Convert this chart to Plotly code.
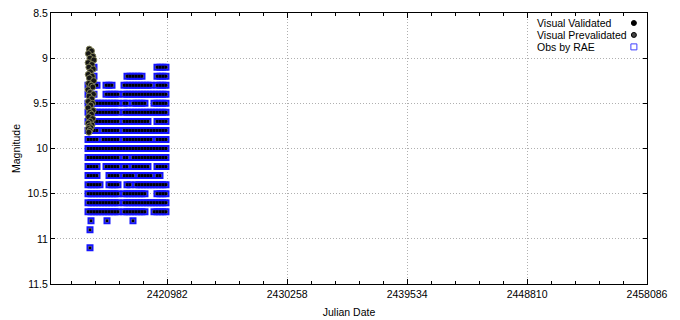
import plotly.graph_objects as go

# ---- data (Julian Date per magnitude row) ----
mag_rows = [9.1, 9.2, 9.3, 9.4, 9.5, 9.6, 9.7, 9.8, 9.9, 10.0, 10.1, 10.2, 10.3, 10.4, 10.5, 10.6, 10.7, 10.8, 10.9, 11.1]

obs_9_1 = [2415084, 2415316, 2420187, 2420419, 2420651, 2420883]
obs_9_2 = [2415084, 2415316, 2417867, 2418099, 2418331, 2418563, 2418795, 2419027,
           2420187, 2420419, 2420651, 2420883]
obs_9_3 = [2414852, 2415084, 2415316, 2415548, 2416244, 2416476, 2416708,
           2417635, 2417867, 2418099, 2418331, 2418563, 2418795, 2419027, 2419259, 2419491, 2419723,
           2420187, 2420419, 2420651, 2420883]
obs_9_4 = [2414852, 2415084, 2415316, 2416244, 2416476, 2416708, 2416940, 2417172,
           2417635, 2417867, 2418099, 2418331, 2418563, 2418795, 2419027, 2419259, 2419491, 2419723,
           2419955, 2420187, 2420419, 2420651, 2420883]
obs_9_5 = [2414852, 2415084, 2415316, 2415548, 2415780, 2416012, 2416244, 2416476, 2416708, 2416940, 2417172,
           2417635, 2417867, 2418331, 2418563, 2418795, 2419027, 2419259,
           2419955, 2420187, 2420419, 2420651, 2420883]
obs_9_6 = [2414852, 2415084, 2415316, 2415548, 2415780, 2416012, 2416244, 2416476, 2416708, 2416940, 2417172,
           2417635, 2417867, 2418099, 2418331, 2418563, 2418795, 2419027, 2419259, 2419491, 2419723,
           2419955, 2420187, 2420419, 2420651, 2420883]
obs_9_7 = [2414852, 2415084, 2415316, 2415548, 2415780, 2416012, 2416244, 2416476, 2416708, 2416940, 2417172,
           2417635, 2417867, 2418099, 2418331, 2418563, 2418795, 2419027, 2419259, 2419491,
           2420187, 2420419, 2420651, 2420883]
obs_9_8 = [2414852, 2415084, 2415316, 2415548, 2416012, 2416244, 2416476, 2416708, 2416940, 2417172,
           2417635, 2417867, 2418099, 2418331, 2418563, 2418795, 2419027, 2419259, 2419491, 2419723,
           2419955, 2420187, 2420419, 2420651, 2420883]
obs_9_9 = [2414852, 2415084, 2415316, 2415548, 2416012, 2416244, 2416476, 2416708, 2416940, 2417172,
           2417635, 2417867, 2418099, 2418331, 2418563, 2418795, 2419027, 2419259, 2419491, 2419723,
           2420187, 2420419, 2420651, 2420883]
obs_10_0 = [2414852, 2415084, 2415316, 2415548, 2415780, 2416012, 2416244, 2416476, 2416708, 2416940, 2417172, 2417404,
            2417635, 2417867, 2418099, 2418331, 2418563, 2418795, 2419027, 2419259, 2419491, 2419723,
            2419955, 2420187, 2420419, 2420651, 2420883]
obs_10_1 = [2414852, 2415084, 2415316, 2415548, 2415780, 2416012, 2416244, 2416476, 2416708, 2416940, 2417172,
            2417635, 2417867, 2418331, 2418563, 2418795, 2419027, 2419259, 2419491, 2419723,
            2419955, 2420187, 2420419, 2420651, 2420883]
obs_10_2 = [2414852, 2415084, 2415316, 2415548, 2416244, 2416476, 2416708, 2416940, 2417172,
            2417635, 2417867, 2418331, 2418563, 2418795, 2419027, 2419259, 2419491,
            2420187, 2420419, 2420651, 2420883]
obs_10_3 = [2414852, 2415084, 2415316, 2415548, 2416476, 2416708, 2416940, 2417172,
            2417635, 2417867, 2418099, 2418331, 2418795, 2419027, 2419259, 2419491, 2419723,
            2420187, 2420419]
obs_10_4 = [2414852, 2415084, 2415316, 2415548, 2415780, 2416476, 2416708, 2416940, 2417172,
            2417867, 2418099, 2418563, 2418795, 2419027, 2419259, 2419491, 2419723,
            2419955, 2420187, 2420419, 2420651, 2420883]
obs_10_5 = [2414852, 2415084, 2415316, 2415548, 2415780, 2416012, 2416244, 2416476, 2416708, 2416940, 2417172,
            2417635, 2417867, 2418099, 2418331, 2418563, 2418795, 2419027, 2419259,
            2420187, 2420419, 2420651, 2420883]
obs_10_6 = [2414852, 2415084, 2415316, 2415548, 2415780, 2416012, 2416244, 2416476, 2416708, 2416940, 2417172,
            2417635, 2417867, 2418099, 2418331, 2418563, 2418795, 2419027, 2419259, 2419491, 2419723,
            2419955, 2420187, 2420419, 2420651, 2420883]
obs_10_7 = [2414852, 2415084, 2415316, 2415548, 2415780, 2416012, 2416244, 2416476, 2416708, 2416940, 2417172,
            2417635, 2417867, 2418099, 2418331, 2418563, 2418795, 2419027, 2419259,
            2419955, 2420187, 2420419, 2420651, 2420883]
obs_10_8 = [2415084, 2416321, 2418331]
obs_10_9 = [2415007]
obs_11_1 = [2415007]

obs_rows = [obs_9_1, obs_9_2, obs_9_3, obs_9_4, obs_9_5, obs_9_6, obs_9_7, obs_9_8, obs_9_9,
            obs_10_0, obs_10_1, obs_10_2, obs_10_3, obs_10_4, obs_10_5, obs_10_6, obs_10_7,
            obs_10_8, obs_10_9, obs_11_1]

prev_jd = [2414950, 2415120, 2414880, 2415230, 2415000, 2415300, 2414860, 2415150,
           2414920, 2415260, 2415040, 2414870, 2415180, 2414960, 2415290, 2414900,
           2415100, 2415220, 2414850, 2415010, 2415270, 2414930, 2415140, 2414880,
           2415200, 2415060, 2414860, 2415250, 2414990, 2415120, 2414900, 2415210,
           2415030, 2414870, 2415160, 2414950, 2415080, 2414880, 2415000, 2414920]
prev_mag = [8.9, 8.92, 8.95, 8.98, 9.0, 9.02, 9.05, 9.07, 9.1, 9.12, 9.15, 9.18, 9.2,
            9.22, 9.25, 9.28, 9.3, 9.32, 9.35, 9.38, 9.4, 9.42, 9.45, 9.48, 9.5, 9.52,
            9.55, 9.58, 9.6, 9.62, 9.65, 9.67, 9.7, 9.72, 9.74, 9.75, 9.77, 9.78, 9.8, 9.82]

x_ticks = [2420982, 2430258, 2439534, 2448810, 2458086]
x_range = [2411990, 2458086]
y_ticks = [8.5, 9, 9.5, 10, 10.5, 11, 11.5]

# ---- build flattened series ----
obs_x, obs_y = [], []
for m, row in zip(mag_rows, obs_rows):
    obs_x.extend(row)
    obs_y.extend([m] * len(row))

FONT = "Liberation Sans, Arial, Helvetica, sans-serif"
FS = 10.5

fig = go.Figure()
fig.add_trace(go.Scatter(
    x=obs_x, y=obs_y, mode="markers", name="Obs by RAE",
    marker=dict(symbol="square-open", size=5, color="#1414ff", line=dict(width=2, color="#1414ff")),
    showlegend=False, hoverinfo="skip"))
fig.add_trace(go.Scatter(
    x=obs_x, y=obs_y, mode="markers", name="Visual Validated",
    marker=dict(symbol="square", size=3, color="black", line=dict(width=0)),
    showlegend=False, hoverinfo="skip"))
fig.add_trace(go.Scatter(
    x=prev_jd, y=prev_mag, mode="markers", name="Visual Prevalidated",
    marker=dict(symbol="circle", size=6, color="#151515",
                line=dict(color="#7d7d55", width=1)),
    showlegend=False, hoverinfo="skip"))

minor_step = (x_ticks[1] - x_ticks[0]) / 5
GRID_DASH = "1px,2px"

fig.update_xaxes(
    range=x_range, tickmode="array", tickvals=x_ticks,
    ticktext=[str(v) for v in x_ticks], automargin=False,
    ticks="inside", ticklen=5, tickcolor="black", tickwidth=1,
    showline=True, linecolor="black", linewidth=1, mirror="allticks",
    showgrid=True, gridcolor="#b0b0b0", griddash=GRID_DASH, gridwidth=1,
    zeroline=False,
    minor=dict(ticks="inside", ticklen=3, tickcolor="black", dtick=minor_step,
               tick0=x_ticks[0], showgrid=False),
    tickfont=dict(family=FONT, size=FS, color="black"),
    title=dict(text="Julian Date", font=dict(family=FONT, size=FS, color="black"), standoff=10),
)
fig.update_yaxes(
    range=[11.5, 8.5], tickmode="array", tickvals=y_ticks,
    ticktext=[f"{v:g}" for v in y_ticks], automargin=False,
    ticks="inside", ticklen=4, tickcolor="black",
    showline=True, linecolor="black", linewidth=1, mirror="allticks",
    showgrid=True, gridcolor="#b0b0b0", griddash=GRID_DASH, gridwidth=1,
    zeroline=False,
    tickfont=dict(family=FONT, size=FS, color="black"),
    title=dict(text="Magnitude", font=dict(family=FONT, size=FS, color="black"), standoff=4),
)

# gnuplot-style key: text on the left, sample symbol on the right
key_labels = ["Visual Validated", "Visual Prevalidated", "Obs by RAE"]
key_y = [0.963, 0.919, 0.875]
shapes = [dict(type="rect", xref="paper", yref="paper", x0=0.795, x1=0.995, y0=0.84, y1=0.985,
               fillcolor="white", line=dict(width=0), layer="between")]
annotations = []
for lab, yy in zip(key_labels, key_y):
    annotations.append(dict(text=lab, xref="paper", yref="paper", x=0.812, y=yy,
                            xanchor="left", yanchor="middle", showarrow=False,
                            font=dict(family=FONT, size=FS, color="black")))
kx = 0.978
shapes.append(dict(type="circle", xref="paper", yref="paper", xsizemode="pixel", ysizemode="pixel",
                   xanchor=kx, yanchor=key_y[0], x0=-2.5, x1=2.5, y0=-2.5, y1=2.5,
                   fillcolor="black", line=dict(color="black", width=1)))
shapes.append(dict(type="circle", xref="paper", yref="paper", xsizemode="pixel", ysizemode="pixel",
                   xanchor=kx, yanchor=key_y[1], x0=-2.5, x1=2.5, y0=-2.5, y1=2.5,
                   fillcolor="#444444", line=dict(color="black", width=1)))
shapes.append(dict(type="rect", xref="paper", yref="paper", xsizemode="pixel", ysizemode="pixel",
                   xanchor=kx, yanchor=key_y[2], x0=-3, x1=3, y0=-3, y1=3,
                   fillcolor="rgba(0,0,0,0)", line=dict(color="#4040ff", width=1)))

fig.update_layout(
    width=680, height=320,
    margin=dict(l=51, r=33, t=13, b=36),
    paper_bgcolor="white", plot_bgcolor="white",
    shapes=shapes, annotations=annotations,
    showlegend=False,
)

# remove the default page margin so the figure sits at the window's top-left corner
fig.write_html("out.html", config={"displayModeBar": False},
               post_script="document.body.style.margin='0px';")
